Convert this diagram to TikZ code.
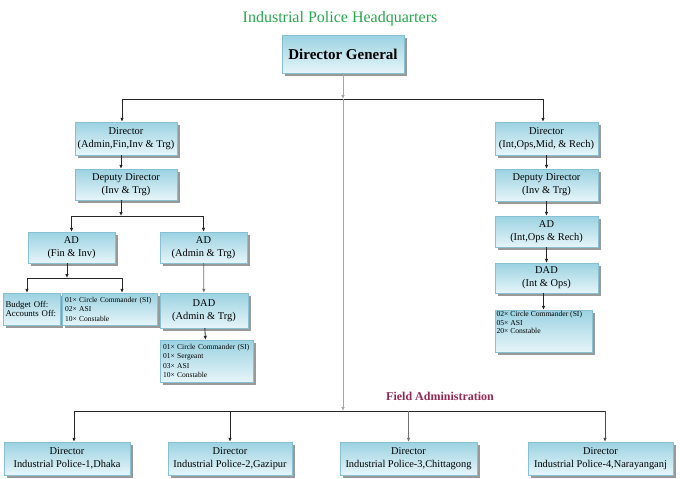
\documentclass[tikz,border=0pt]{standalone}
\usepackage{fontspec}
\setmainfont{Liberation Serif}
\usetikzlibrary{arrows.meta, shadows}
\definecolor{titlegreen}{RGB}{38,168,78}
\definecolor{fieldred}{RGB}{150,40,85}
\definecolor{boxtop}{RGB}{155,210,225}
\definecolor{boxbot}{RGB}{230,245,249}
\definecolor{boxline}{RGB}{135,192,210}

\begin{document}
\begin{tikzpicture}[
        x=1pt, y=-1pt,
        >={Latex[length=4pt,width=3.6pt]},
        box/.style={
            draw=boxline,
            top color=boxtop,
            bottom color=boxbot,
            drop shadow={shadow xshift=2.5pt, shadow yshift=-2.5pt, fill=black!40, opacity=1},
            align=center,
            inner sep=1pt,
            font=\fontsize{10.4}{13}\selectfont
        },
        list/.style={
            box,
            align=left,
            inner sep=3pt,
            font=\fontsize{7.5}{9.5}\selectfont
        },
        bus/.style={line width=0.8pt, black!85},
        arr/.style={->, line width=0.8pt, black!85},
        trunk/.style={->, line width=1pt, black!35}
    ]
        \useasboundingbox (0,0) rectangle (680,479);

        % Headquarters
        \node[text=titlegreen, font=\fontsize{16}{18}\selectfont] (title) at (340,19) {Industrial Police Headquarters};
        \node[box, minimum width=122pt, minimum height=38pt, font=\fontsize{15}{17}\selectfont\bfseries] (DG) at (343,54) {Director General};

        % Bus lines (named points)
        \coordinate (hqbus) at (343,99);
        \coordinate (hqbusL) at (122,99);
        \coordinate (hqbusR) at (543,99);
        \coordinate (fieldbus) at (343,411);
        \coordinate (fieldbusL) at (74,411);
        \coordinate (fieldbusR) at (605,411);
        \coordinate (adbus) at (121,216);
        \coordinate (finbus) at (67,278);
        \coordinate (finbusL) at (27,278);
        \coordinate (finbusR) at (122,278);

        % Left branch
        \node[box, minimum width=102pt, minimum height=33pt] (dirA) at (126,138.5) {Director\\(Admin,Fin,Inv \& Trg)};
        \node[box, minimum width=102pt, minimum height=31pt] (depA) at (126,184.5) {Deputy Director\\(Inv \& Trg)};
        \node[box, minimum width=87pt, minimum height=31pt] (adFin) at (71.5,247.5) {AD\\(Fin \& Inv)};
        \node[box, minimum width=87pt, minimum height=31pt] (adAdm) at (203.5,247.5) {AD\\(Admin \& Trg)};
        \node[list, minimum width=57pt, minimum height=32pt, text width=52pt, inner xsep=2pt, font=\fontsize{8.8}{9.5}\selectfont] (budget) at (31.5,309) {Budget Off:\\Accounts Off:};
        \node[list, minimum width=95pt, minimum height=32pt, text width=89pt] (finList) at (109.5,309) {01× Circle Commander (SI)\\02× ASI\\10× Constable};
        \node[box, minimum width=88pt, minimum height=35pt] (dadAdm) at (204,310.5) {DAD\\(Admin \& Trg)};
        \node[list, minimum width=93pt, minimum height=42pt, text width=87pt] (admList) at (206.5,361) {01× Circle Commander (SI)\\01× Sergeant\\03× ASI\\10× Constable};

        % Right branch
        \node[box, minimum width=103pt, minimum height=33pt] (dirB) at (546.5,138.5) {Director\\(Int,Ops,Mid, \& Rech)};
        \node[box, minimum width=103pt, minimum height=32pt] (depB) at (546.5,185) {Deputy Director\\(Inv \& Trg)};
        \node[box, minimum width=103pt, minimum height=31pt] (adB) at (546.5,231.5) {AD\\(Int,Ops \& Rech)};
        \node[box, minimum width=103pt, minimum height=30pt] (dadB) at (546.5,278) {DAD\\(Int \& Ops)};
        \node[list, inner sep=1.5pt] (intList) at (543.5,331) {\parbox[t][39pt][t]{94pt}{\fontsize{7.6}{8.6}\selectfont 02× Circle Commander (SI)\\05× ASI\\20× Constable}};

        % Field administration
        \node[text=fieldred, font=\fontsize{12}{14}\selectfont\bfseries] (field) at (440,396) {Field Administration};
        \node[box, minimum width=126pt, minimum height=33pt] (fp1) at (67,458.5) {Director\\Industrial Police-1,Dhaka};
        \node[box, minimum width=124pt, minimum height=33pt] (fp2) at (230,458.5) {Director\\Industrial Police-2,Gazipur};
        \node[box, minimum width=137pt, minimum height=33pt] (fp3) at (408.5,458.5) {Director\\Industrial Police-3,Chittagong};
        \node[box, minimum width=145pt, minimum height=33pt] (fp4) at (600.5,458.5) {Director\\Industrial Police-4,Narayanganj};

        % Top level connectors
        \draw[trunk] (DG) -- (hqbus);
        \draw[bus] (hqbusL) -- (hqbusR);
        \draw[arr] (hqbusL) -- (hqbusL |- dirA.north);
        \draw[arr] (hqbusR) -- (hqbusR |- dirB.north);
        \draw[trunk] (hqbus) -- (fieldbus);

        % Left branch connectors
        \draw[arr] (dirA.south -| adbus) -- (depA.north -| adbus);
        \draw[arr] (depA.south -| adbus) -- (adbus);
        \draw[bus] (adbus -| adFin) -- (adbus -| adAdm);
        \draw[arr] (adbus -| adFin) -- (adFin);
        \draw[arr] (adbus -| adAdm) -- (adAdm);
        \draw[arr] (adFin.south -| finbus) -- (finbus);
        \draw[bus] (finbusL) -- (finbusR);
        \draw[arr] (finbusL) -- (finbusL |- budget.north);
        \draw[arr] (finbusR) -- (finbusR |- finList.north);
        \draw[arr, black!55] (adAdm) -- (dadAdm);
        \draw[arr] (dadAdm) -- (admList);

        % Right branch connectors
        \draw[arr] (dirB) -- (depB);
        \draw[arr] (depB) -- (adB);
        \draw[arr] (adB) -- (dadB);
        \draw[arr] (dadB.south -| intList) -- (intList);

        % Field connectors
        \draw[bus] (fieldbusL) -- (fieldbusR);
        \draw[arr] (fieldbusL) -- (fieldbusL |- fp1.north);
        \draw[arr] (fieldbus -| fp2) -- (fp2);
        \draw[arr, black!55] (fieldbus -| fp3) -- (fp3);
        \draw[arr, black!70] (fieldbusR) -- (fieldbusR |- fp4.north);
    \end{tikzpicture}
\end{document}
